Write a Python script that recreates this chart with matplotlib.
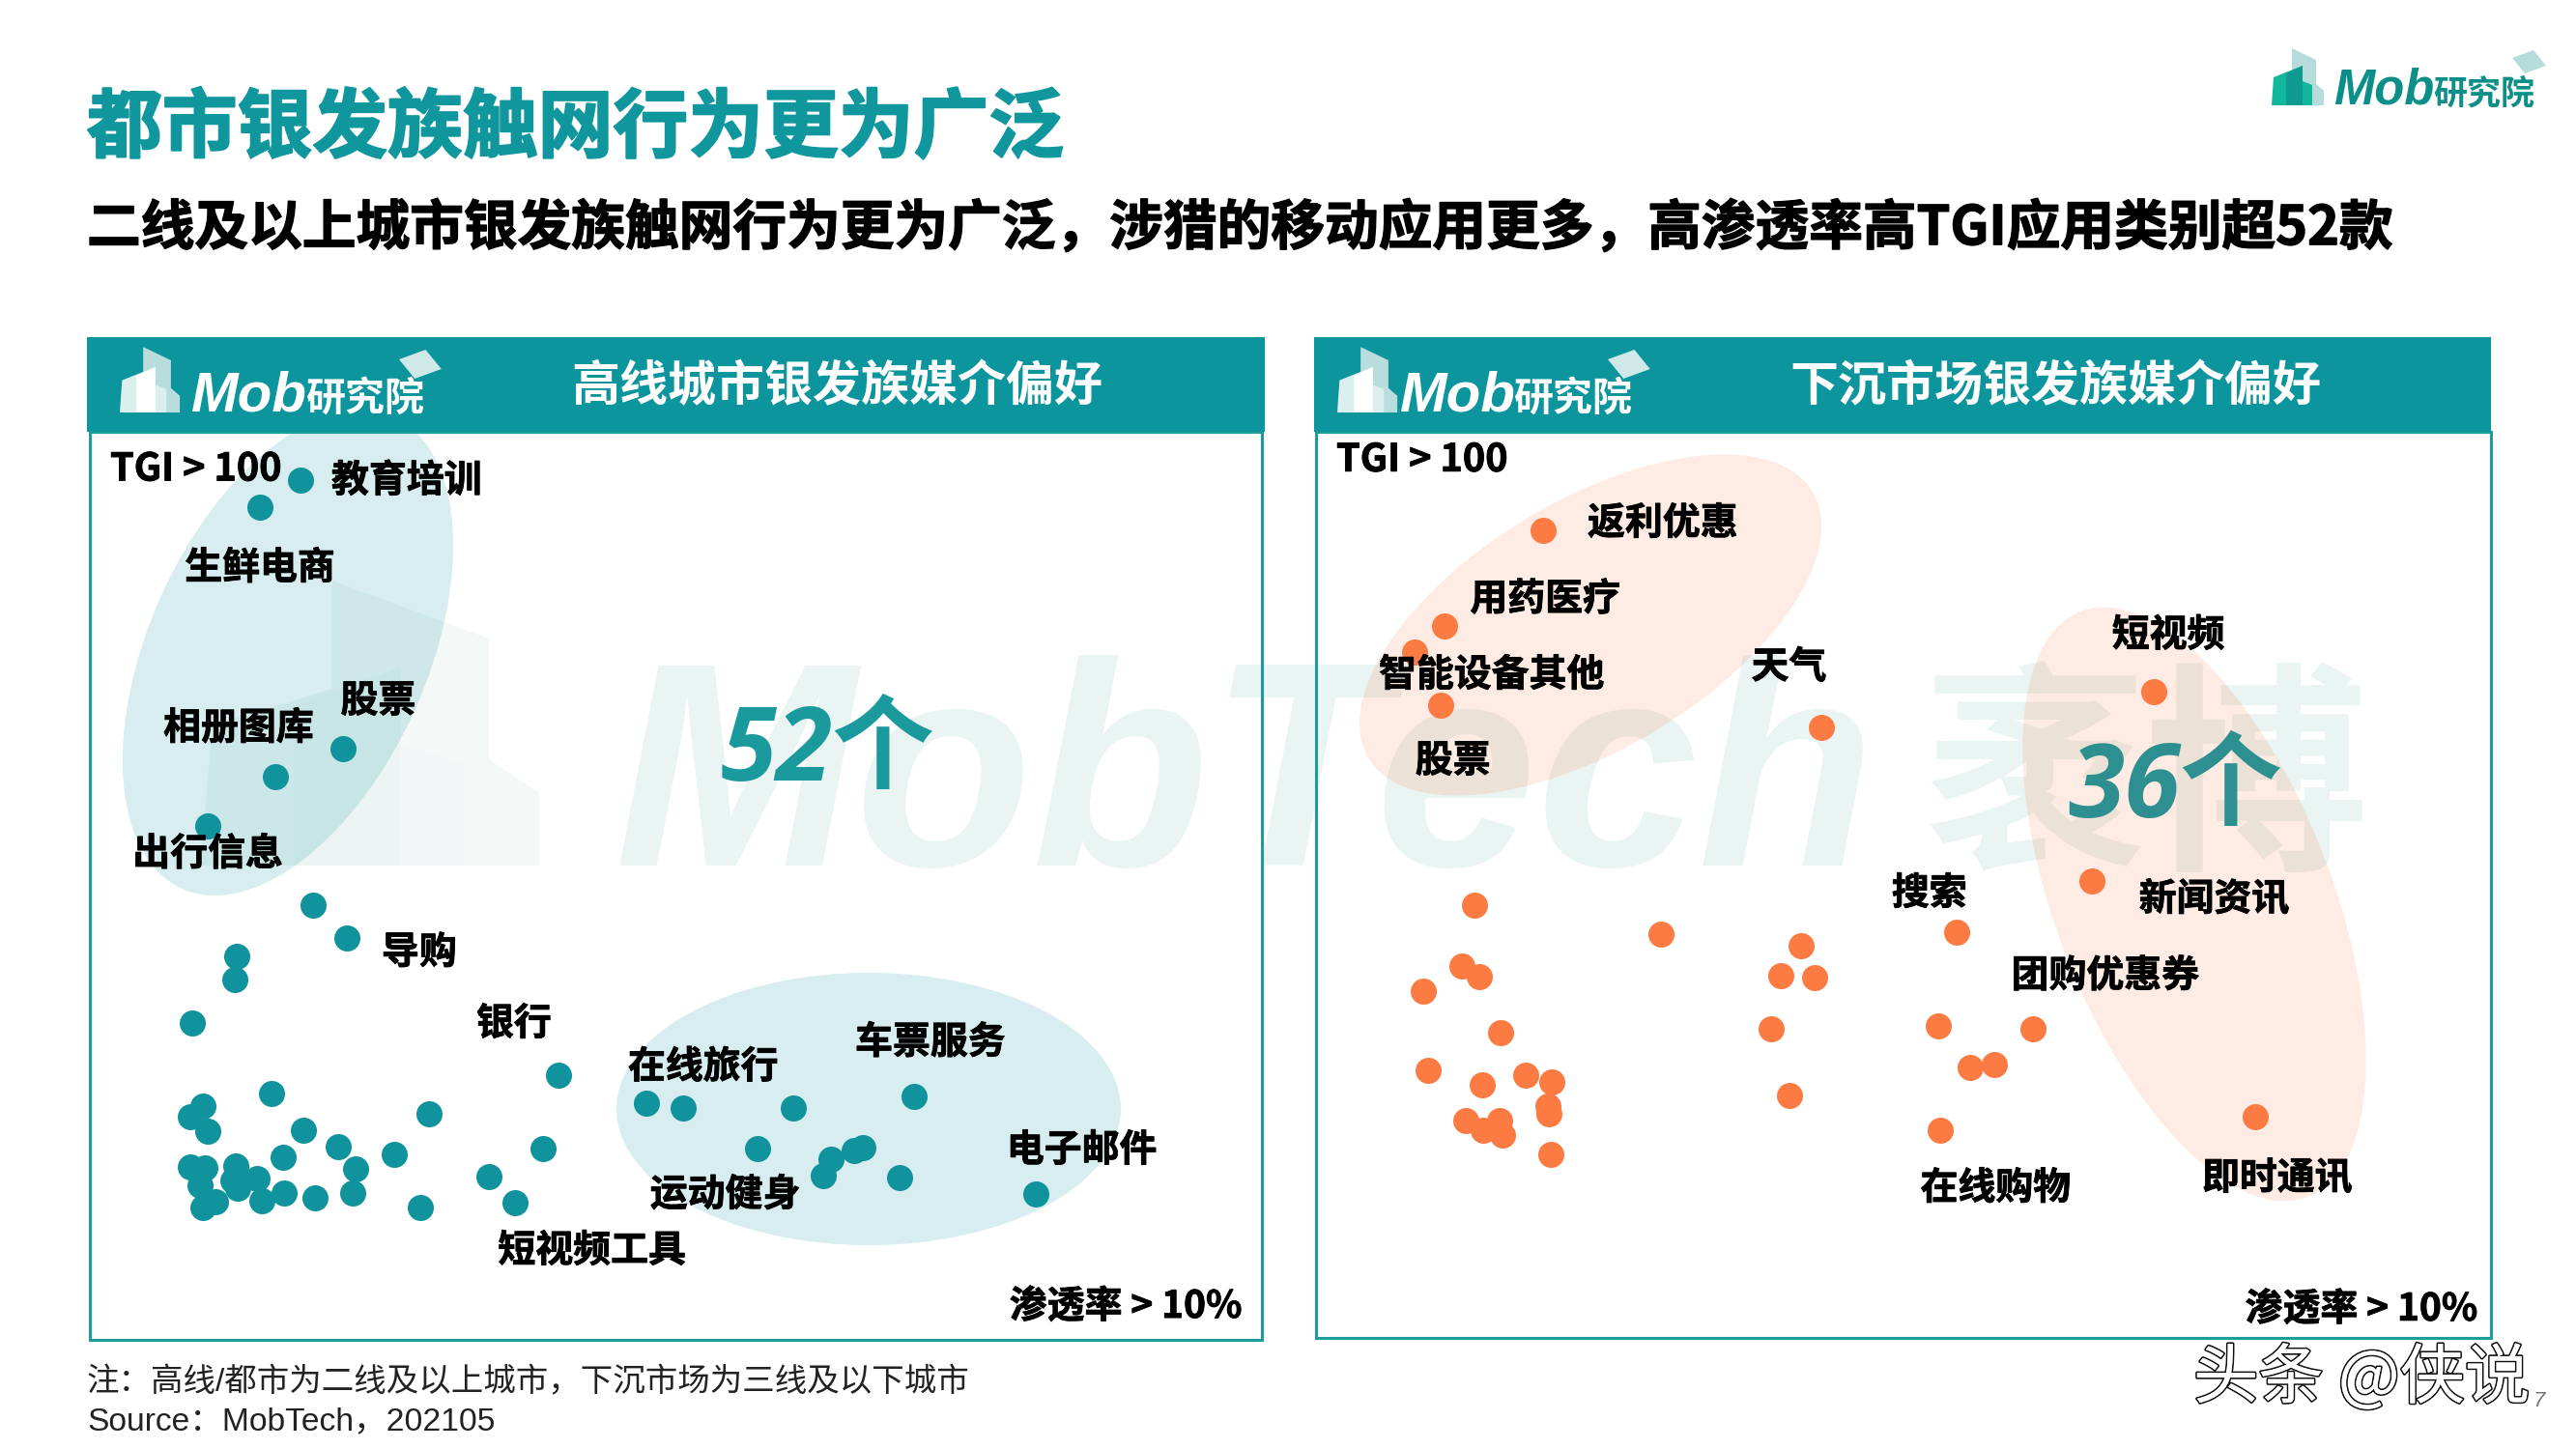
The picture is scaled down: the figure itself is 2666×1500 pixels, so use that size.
import matplotlib
matplotlib.use("Agg")
import matplotlib.pyplot as plt
import matplotlib.patheffects as pe
from matplotlib.patches import Ellipse, Polygon, Rectangle

CJK = "Noto Sans CJK SC"
plt.rcParams["font.family"] = [CJK, "DejaVu Sans"]

TITLE = "都市银发族触网行为更为广泛"
SUBTITLE = "二线及以上城市银发族触网行为更为广泛，涉猎的移动应用更多，高渗透率高TGI应用类别超52款"
LEFT_HEADER = "高线城市银发族媒介偏好"
RIGHT_HEADER = "下沉市场银发族媒介偏好"
NOTE = "注：高线/都市为二线及以上城市，下沉市场为三线及以下城市"
SOURCE = "Source：MobTech，202105"

# read-off units along each panel: penetration (x), TGI (y)
left_pen = [268,216,321,236,150,283,326,187,184,130,595,231,706,753,892,1045,144,128,150,431,271,315,246,386,337,
            128,146,185,140,182,213,188,247,218,286,334,160,144,419,506,575,540,847,930,940,969,981,1027,1200]
left_tgi = [1292,1252,888,847,772,653,604,576,541,476,398,370,355,348,349,366,352,336,313,340,315,291,275,278,257,
            260,258,262,232,240,242,228,221,209,213,221,207,199,199,245,287,206,287,247,271,284,289,244,219]
right_pen = [287,163,125,158,640,1061,983,200,437,615,812,185,207,136,589,631,234,576,788,908,142,210,265,299,293,
             295,189,232,212,236,297,600,829,859,791,1190]
right_tgi = [1213,1070,1030,951,918,971,686,650,607,589,610,559,543,521,545,542,459,464,469,465,402,380,395,385,349,
             337,326,327,312,305,276,365,406,411,312,332]

left_names = ["教育培训","生鲜电商","股票","相册图库","出行信息","导购","银行","在线旅行","车票服务","电子邮件","运动健身","短视频工具"]
left_name_x = [402,216,366,189,150,418,538,778,1066,1258,806,637]
left_name_y = [1291,1160,960,919,730,582,475,410,447,285,218,134]
right_names = ["返利优惠","用药医疗","智能设备其他","股票","天气","短视频","搜索","新闻资讯","团购优惠券","在线购物","即时通讯"]
right_name_x = [439,290,222,173,599,1080,777,1138,1000,861,1218]
right_name_y = [1224,1110,996,867,1008,1056,668,659,544,225,240]

TEAL = "#0c959c"
ORANGE = "#fb7b43"
W, H = 2666, 1500
fig = plt.figure(figsize=(W/100, H/100), dpi=100, facecolor="white")
bg = fig.add_axes([0, 0, 1, 1], zorder=0)
bg.set_xlim(0, W); bg.set_ylim(H, 0); bg.axis("off")

def logo(ax, x0, base, sx, sy, back, front, mid, z=2):
    """Building icon with its lower-left corner at (x0, base)."""
    def poly(pts, c):
        ax.add_patch(Polygon([(x0+px*sx, base-py*sy) for px, py in pts], closed=True, fc=c, ec="none", zorder=z))
    poly([(21,0),(21,59),(46,47),(46,22),(54,15),(54,0)], back)
    poly([(0,0),(2,29),(32,41),(32,25),(42,21),(42,0)], front)
    poly([(15,0),(15,33),(32,41),(32,0)], mid)

def brand(ax, x_mob, x_cjk, base, size_mob, size_cjk, color, cap_color, cap_x, cap_y, k=1.0):
    ax.text(x_mob, base, "Mob", family="Liberation Sans", style="italic", weight="bold", fontsize=size_mob,
            color=color, ha="left", va="baseline", zorder=4)
    ax.text(x_cjk, base, "研究院", weight="bold", fontsize=size_cjk, color=color, ha="left", va="baseline", zorder=4)
    ax.add_patch(Polygon([(cap_x, cap_y+8*k),(cap_x+22*k, cap_y),(cap_x+35*k, cap_y+16*k),(cap_x+13*k, cap_y+24*k)],
                         closed=True, fc=cap_color, ec="none", zorder=4))

# large background watermark
logo(bg, 207, 896, 6.5, 5.0, "#f4f9f8", "#f0f7f6", "#ecf5f4", z=1)
bg.text(636, 896, "MobTech", family="Liberation Sans", style="italic", weight="bold", fontsize=216,
        color="#eaf4f2", ha="left", va="baseline", zorder=1)
bg.text(1990, 882, "袤博", weight="bold", fontsize=166, color="#eaf4f2", ha="left", va="baseline", zorder=1)

# titles
bg.text(90, 134, TITLE, fontsize=56, weight="bold", color="#10979e", ha="left", va="center", zorder=5,
        path_effects=[pe.withStroke(linewidth=1.5, foreground="#10979e")])
bg.text(90, 237, SUBTITLE, fontsize=40.1, weight="bold", color="black", ha="left", va="center", zorder=5,
        path_effects=[pe.withStroke(linewidth=1, foreground="black")])

# top-right brand
logo(bg, 2351, 109, 1, 1, "#b5dcdb", "#10b79a", "#0e9a90")
brand(bg, 2415, 2518, 108, 36.5, 25.2, "#0b8f88", "#b5dcdb", 2600, 52, 1.0)

# soft group ellipses
bg.add_patch(Ellipse((298, 676), 535, 288, angle=-65.8, fc=TEAL, alpha=0.16, ec="none", zorder=2))
bg.add_patch(Ellipse((899, 1148), 522, 282, fc=TEAL, alpha=0.16, ec="none", zorder=2))
bg.add_patch(Ellipse((1646, 647), 536, 257, angle=-31, fc=ORANGE, alpha=0.15, ec="none", zorder=2))
bg.add_patch(Ellipse((2271, 936), 650, 286, angle=68.8, fc=ORANGE, alpha=0.15, ec="none", zorder=2))

# panel frames and headers
for (x0, x1, y1, hx0, hx1) in [(93, 1306, 1387, 90, 1309), (1362, 2578, 1385, 1360, 2578)]:
    bg.add_patch(Rectangle((x0, 447), x1-x0, y1-447, fc="none", ec="#1d9c9c", lw=2.2, zorder=3))
    bg.add_patch(Rectangle((hx0, 349), hx1-hx0, 98, fc=TEAL, ec="none", zorder=3))

logo(bg, 124, 427, 1.15, 1.15, "#b9dcdc", "#dcefef", "#ffffff", z=4)
brand(bg, 198, 316, 425, 42, 29.5, "white", "#cfe8e8", 413, 362, 1.25)
logo(bg, 1384, 427, 1.15, 1.15, "#b9dcdc", "#dcefef", "#ffffff", z=4)
brand(bg, 1449, 1566, 425, 42, 29.5, "white", "#cfe8e8", 1664, 362, 1.25)

bg.text(866, 401, LEFT_HEADER, fontsize=36, weight="bold", color="white", ha="center", va="center", zorder=5)
bg.text(2127, 401, RIGHT_HEADER, fontsize=36, weight="bold", color="white", ha="center", va="center", zorder=5)

def panel(rect_px, xmax, ymax, pen, tgi, color, names, nx, ny, tx, ty, px_, py_):
    x0, y0, x1, y1 = rect_px
    ax = fig.add_axes([x0/W, 1-y1/H, (x1-x0)/W, (y1-y0)/H], zorder=2)
    ax.set_xlim(0, xmax); ax.set_ylim(0, ymax); ax.axis("off"); ax.patch.set_alpha(0)
    ax.scatter(pen, tgi, s=378, c=color, linewidths=0, zorder=3, clip_on=False)
    bold = [pe.withStroke(linewidth=0.6, foreground="black")]
    for n, a, b in zip(names, nx, ny):
        ax.text(a, b, n, fontsize=28, weight="bold", color="black", ha="center", va="center", zorder=4, path_effects=bold)
    ax.text(tx, ty, "TGI > 100", fontsize=28.5, weight="bold", color="black", ha="center", va="center", zorder=4, path_effects=bold)
    ax.text(px_, py_, "渗透率 > 10%", fontsize=28, weight="bold", color="black", ha="center", va="center", zorder=4, path_effects=bold)
    return ax

panel((92.6, 446.7, 1306.5, 1387), 1487, 1365, left_pen, left_tgi, "#10939c", left_names, left_name_x, left_name_y,
      135, 1308, 1314, 50)
panel((1362.4, 446.7, 2578, 1385), 1489, 1362, right_pen, right_tgi, ORANGE, right_names, right_name_x, right_name_y,
      134, 1319, 1325, 43)

# counts
bg.text(746, 808, "52个", family=["Open Sans", CJK], style="italic", weight="bold", fontsize=76, color="#1a9a9c",
        ha="left", va="baseline", zorder=6)
bg.text(2140, 846, "36个", family=["Open Sans", CJK], style="italic", weight="bold", fontsize=76, color="#2d8f8f",
        ha="left", va="baseline", zorder=6)

# footnotes
bg.text(90, 1431, NOTE, family=["Liberation Sans", CJK], fontsize=24.1, color="#222222", ha="left", va="center", zorder=5)
bg.text(90, 1472, SOURCE, family=["Liberation Sans", CJK], fontsize=24.2, color="#222222", ha="left", va="center", zorder=5)

# page furniture
bg.text(2270, 1428, "头条 @侠说", fontsize=48.5, color="white", ha="left", va="center", zorder=5,
        path_effects=[pe.withStroke(linewidth=2.4, foreground="#111111"), pe.Normal()])
bg.text(2628, 1450, "7", family="Liberation Sans", style="italic", fontsize=16, color="#777777", ha="center", va="center", zorder=6)

fig.savefig("out.png", dpi=100, facecolor="white")
